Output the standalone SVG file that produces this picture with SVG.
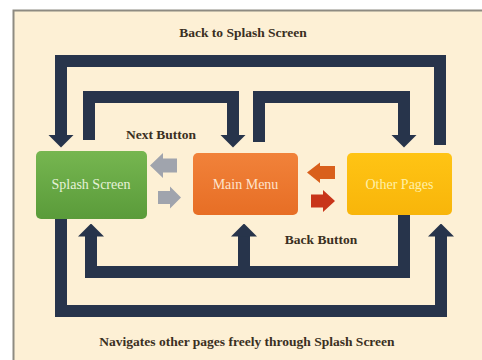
<svg xmlns="http://www.w3.org/2000/svg" width="482" height="360" viewBox="0 0 482 360">
<style>
.lbl{font-family:"Liberation Serif","Times New Roman",serif;font-weight:bold;font-size:13.5px;fill:#3a2f22;text-anchor:middle}
.ntx{font-family:"Liberation Serif","Times New Roman",serif;font-size:14px;text-anchor:middle}
.bar{fill:none;stroke:#27344b;stroke-width:12;stroke-linejoin:miter;stroke-linecap:butt}
</style>
<defs>
<marker id="ah" viewBox="0 -13 13 26" refX="0.5" refY="0" markerWidth="13" markerHeight="26" markerUnits="userSpaceOnUse" orient="auto">
<path d="M0,-13 L13,0 L0,13 z" fill="#27344b"/>
</marker>
<linearGradient id="gG" x1="0" y1="0" x2="0" y2="1"><stop offset="0" stop-color="#76b650"/><stop offset="1" stop-color="#5a9b3a"/></linearGradient>
<linearGradient id="gO" x1="0" y1="0" x2="0" y2="1"><stop offset="0" stop-color="#f1823a"/><stop offset="1" stop-color="#e76e25"/></linearGradient>
<linearGradient id="gY" x1="0" y1="0" x2="0" y2="1"><stop offset="0" stop-color="#ffc414"/><stop offset="1" stop-color="#f8b50a"/></linearGradient>
</defs>
<rect x="0" y="0" width="482" height="360" fill="#ffffff"/>
<rect x="13.5" y="10.5" width="480" height="360" fill="#fdf0d5" stroke="#8e8b82" stroke-width="2"/>
<text class="lbl" x="243" y="37">Back to Splash Screen</text>
<text class="lbl" x="161" y="139">Next Button</text>
<text class="lbl" x="321" y="244">Back Button</text>
<text class="lbl" x="247" y="346">Navigates other pages freely through Splash Screen</text>
<g id="connectors">
<polyline class="bar" points="440,145 440,61 61,61 61,135" marker-end="url(#ah)"/>
<polyline class="bar" points="89,140 89,97 233,97 233,135" marker-end="url(#ah)"/>
<polyline class="bar" points="259,142 259,97 404,97 404,135" marker-end="url(#ah)"/>
<polyline class="bar" points="61,219 61,311 441,311 441,236" marker-end="url(#ah)"/>
<polyline class="bar" points="404,215 404,272 91,272 91,236" marker-end="url(#ah)"/>
<polyline class="bar" points="244,272 244,236" marker-end="url(#ah)"/>
<polygon points="150,165.5 163,153 163,158.5 177,158.5 177,172.5 163,172.5 163,178" fill="#a0a4ad"/>
<polygon points="158,191 170,191 170,186.5 181,197.5 170,208.5 170,204 158,204" fill="#a0a4ad"/>
<polygon points="307,172.5 320,162.5 320,166 335,166 335,179 320,179 320,183" fill="#d9601c"/>
<polygon points="311,194.5 323,194.5 323,190 335,201 323,212 323,207.5 311,207.5" fill="#c8351a"/>
</g>
<g id="splash">
<rect x="36" y="151" width="111" height="68" rx="5" fill="url(#gG)"/>
<text class="ntx" x="91" y="189" fill="#e6f2d8">Splash Screen</text>
</g>
<g id="main">
<rect x="193" y="153" width="105" height="62" rx="5" fill="url(#gO)"/>
<text class="ntx" x="245.5" y="189" fill="#fde3cc">Main Menu</text>
</g>
<g id="other">
<rect x="347" y="153" width="105" height="62" rx="5" fill="url(#gY)"/>
<text class="ntx" x="399.5" y="189" fill="#fff0a8">Other Pages</text>
</g>
</svg>
